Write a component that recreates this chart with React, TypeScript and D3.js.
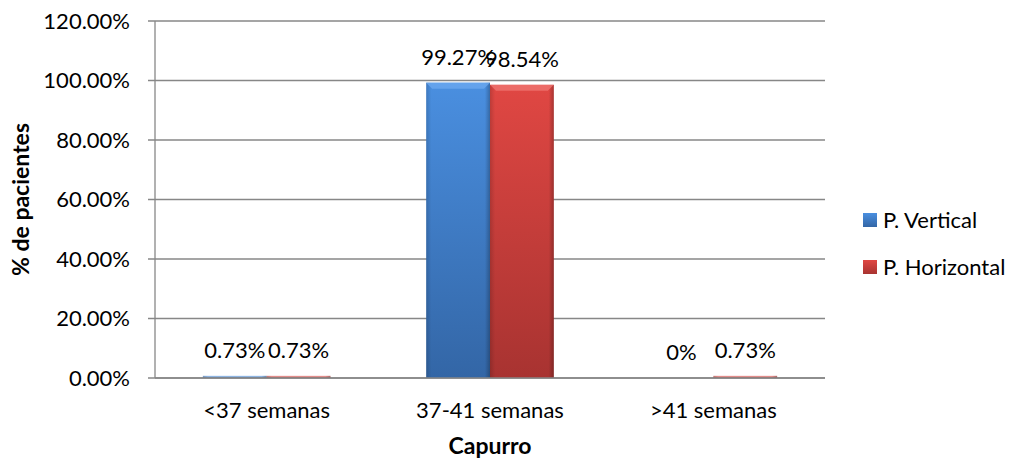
import React from 'react';
import * as d3 from 'd3';

const categories = ['<37 semanas', '37-41 semanas', '>41 semanas'];
const seriesNames = ['P. Vertical', 'P. Horizontal'];
const vertical = [0.73, 99.27, 0];
const horizontal = [0.73, 98.54, 0.73];
const valueLabels = [
  ['0.73%', '99.27%', '0%'],
  ['0.73%', '98.54%', '0.73%'],
];
const yTicks = [0, 20, 40, 60, 80, 100, 120];

const colors = [
  { top: '#4a8fe0', bottom: '#3366a6', edge: '#6aa8ef' },
  { top: '#e04743', bottom: '#a83331', edge: '#ef7470' },
];

export default function App() {
  const width = 1016;
  const height = 461;
  const margin = { top: 21, left: 155, right: 191, bottom: 83 };
  const iwidth = width - margin.left - margin.right;
  const iheight = height - margin.top - margin.bottom;
  const font = 'Lato, Carlito, Calibri, sans-serif';

  const y = d3.scaleLinear().domain([0, 120]).range([iheight, 0]);
  const x = d3.scaleBand().domain(categories).range([0, iwidth]).paddingInner(0).paddingOuter(0);
  const inner = d3.scaleBand().domain(seriesNames).range([0, x.bandwidth()]).paddingInner(0).paddingOuter(0.75);
  const series = [vertical, horizontal];

  return (
    <svg width={width} height={height} style={{ position: 'absolute', left: 0, top: 0 }}>
      <defs>
        {colors.map((c, i) => (
          <linearGradient key={i} id={`g${i}`} x1="0" y1="0" x2="0" y2="1">
            <stop offset="0%" stopColor={c.top} />
            <stop offset="100%" stopColor={c.bottom} />
          </linearGradient>
        ))}
        {colors.map((c, i) => (
          <linearGradient key={'h' + i} id={`h${i}`} x1="0" y1="0" x2="1" y2="0">
            <stop offset="0%" stopColor="#000" stopOpacity="0.15" />
            <stop offset="8%" stopColor="#000" stopOpacity="0" />
            <stop offset="92%" stopColor="#000" stopOpacity="0" />
            <stop offset="100%" stopColor="#000" stopOpacity="0.25" />
          </linearGradient>
        ))}
      </defs>
      <g transform={`translate(${margin.left},${margin.top})`}>
        {yTicks.map(t => (
          <g key={t}>
            <line x1={-7} x2={iwidth} y1={y(t)} y2={y(t)} stroke="#878787" strokeWidth={1.3} />
            <text x={-25} y={y(t)} dy="0.36em" textAnchor="end" fontFamily={font} fontSize={22} fill="#000">
              {t.toFixed(2)}%
            </text>
          </g>
        ))}
        <line x1={0} x2={0} y1={0} y2={iheight} stroke="#878787" strokeWidth={1.3} />
        {series.map((vals, si) =>
          vals.map((v, ci) => {
            const bx = (x(categories[ci]) as number) + (inner(seriesNames[si]) as number);
            const bw = inner.bandwidth();
            const by = y(v);
            const bh = iheight - by;
            return (
              <g key={`${si}-${ci}`}>
                {bh > 0 && (
                  <>
                    <rect x={bx} y={by} width={bw} height={bh} fill={`url(#g${si})`} opacity={bh > 10 ? 1 : 0.6} />
                    <rect x={bx} y={by} width={bw} height={bh} fill={`url(#h${si})`} />
                    {bh > 10 && (
                      <polygon
                        points={`${bx},${by} ${bx + bw},${by} ${bx + bw - 6},${by + 6} ${bx + 6},${by + 6}`}
                        fill={colors[si].edge}
                        opacity={0.8}
                      />
                    )}
                  </>
                )}
                <text
                  x={bx + bw / 2}
                  y={by - 18}
                  textAnchor="middle"
                  fontFamily={font}
                  fontSize={22}
                  fill="#000"
                >
                  {valueLabels[si][ci]}
                </text>
              </g>
            );
          })
        )}
        <line x1={0} x2={iwidth} y1={iheight} y2={iheight} stroke="#878787" strokeWidth={1.3} />
        {categories.map(c => (
          <text
            key={c}
            x={(x(c) as number) + x.bandwidth() / 2}
            y={iheight + 40}
            textAnchor="middle"
            fontFamily={font}
            fontSize={22}
            fill="#000"
          >
            {c}
          </text>
        ))}
        <text x={iwidth / 2} y={iheight + 76} textAnchor="middle" fontFamily={font} fontSize={23} fontWeight="bold">
          Capurro
        </text>
        <text
          transform={`translate(${29 - margin.left},${iheight / 2}) rotate(-90)`}
          textAnchor="middle"
          fontFamily={font}
          fontSize={23}
          fontWeight="bold"
        >
          % de pacientes
        </text>
      </g>
      {seriesNames.map((s, i) => (
        <g key={s} transform={`translate(863,${220 + i * 47})`}>
          <rect x={0} y={-7} width={14} height={14} fill={`url(#g${i})`} />
          <text x={20} y={0} dy="0.36em" fontFamily={font} fontSize={22} fill="#000">
            {s}
          </text>
        </g>
      ))}
    </svg>
  );
}
